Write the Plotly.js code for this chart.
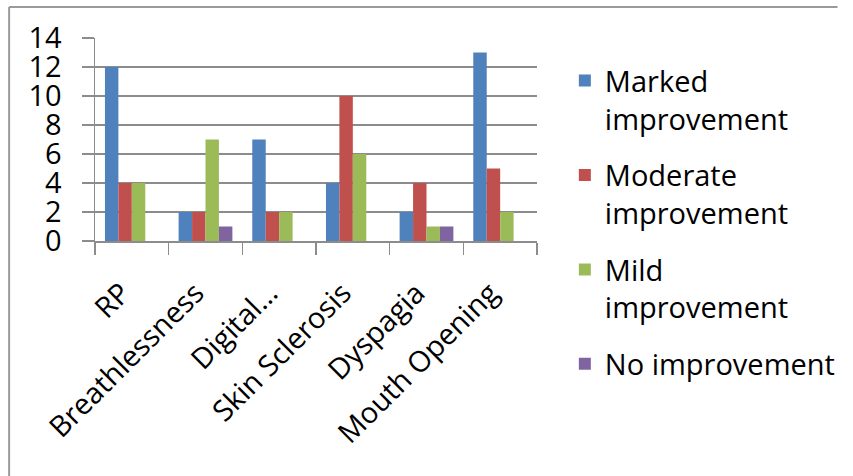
<!DOCTYPE html>
<html>
<head>
<meta charset="utf-8">
<script src="https://cdn.plot.ly/plotly-3.0.1.min.js"></script>
<style>html,body{margin:0;padding:0;background:#fff;}#chart{width:853px;height:476px;}</style>
</head>
<body>
<div id="chart"></div>
<script>
const categories = ["RP", "Breathlessness", "Digital…", "Skin Sclerosis", "Dyspagia", "Mouth Opening"];
const seriesNames = ["Marked<br>improvement", "Moderate<br>improvement", "Mild<br>improvement", "No improvement"];
const marked   = [12, 2, 7, 4, 2, 13];
const moderate = [4, 2, 2, 10, 4, 5];
const mild     = [4, 7, 2, 6, 1, 2];
const none     = [0, 1, 0, 0, 1, 0];
const yTicks = [0, 2, 4, 6, 8, 10, 12, 14];

const colors = ["#4F81BD", "#C0504D", "#9BBB59", "#8064A2"];
const values = [marked, moderate, mild, none];

const FONT = "Open Sans, Lato, sans-serif";

const traces = values.map((v, i) => ({
  type: "bar",
  x: categories,
  y: v,
  name: seriesNames[i],
  legendgroup: "g" + i,
  marker: {color: colors[i], line: {width: 0}},
  hoverinfo: "skip"
}));

const layout = {
  width: 853, height: 476,
  margin: {l: 95, r: 305, t: 38, b: 235},
  paper_bgcolor: "#fff", plot_bgcolor: "#fff",
  font: {family: FONT, size: 29, color: "#000"},
  barmode: "group",
  bargap: 0.27,
  bargroupgap: 0,
  showlegend: true,
  legend: {
    x: 1.063, y: 0.915, xanchor: "left", yanchor: "top",
    font: {family: FONT, size: 29, color: "#000"},
    valign: "top",
    tracegroupgap: 16,
    maxheight: 470,
    bgcolor: "rgba(0,0,0,0)"
  },
  xaxis: {
    type: "category",
    tickangle: -45,
    ticks: "outside", tickson: "boundaries", ticklen: 12, tickcolor: "#8c8c8c", tickwidth: 1.5,
    showline: true, linecolor: "#8c8c8c", linewidth: 1.5,
    showgrid: false, zeroline: false,
    ticklabelstandoff: 22,
    ticklabelshift: -10,
    tickfont: {family: FONT, size: 29, color: "#000"}
  },
  yaxis: {
    range: [0, 14],
    tickmode: "array", tickvals: yTicks, ticktext: yTicks.map(String),
    ticks: "outside", ticklen: 12, tickcolor: "#8c8c8c", tickwidth: 1.5,
    showline: true, linecolor: "#8c8c8c", linewidth: 1.5,
    showgrid: true, gridcolor: "#8c8c8c", gridwidth: 1.5,
    zeroline: false,
    ticklabelstandoff: 14,
    tickfont: {family: FONT, size: 29, color: "#000"}
  },
  shapes: [
    {type: "line", xref: "paper", yref: "paper", x0: -0.1943, x1: 1.68, y0: 1.1527, y1: 1.1527, line: {color: "#9a9a9a", width: 2}},
    {type: "line", xref: "paper", yref: "paper", x0: -0.1943, x1: -0.1943, y0: 1.1527, y1: -1.2, line: {color: "#9a9a9a", width: 2}}
  ]
};

Plotly.newPlot("chart", traces, layout, {displayModeBar: false, staticPlot: true});
</script>
</body>
</html>
